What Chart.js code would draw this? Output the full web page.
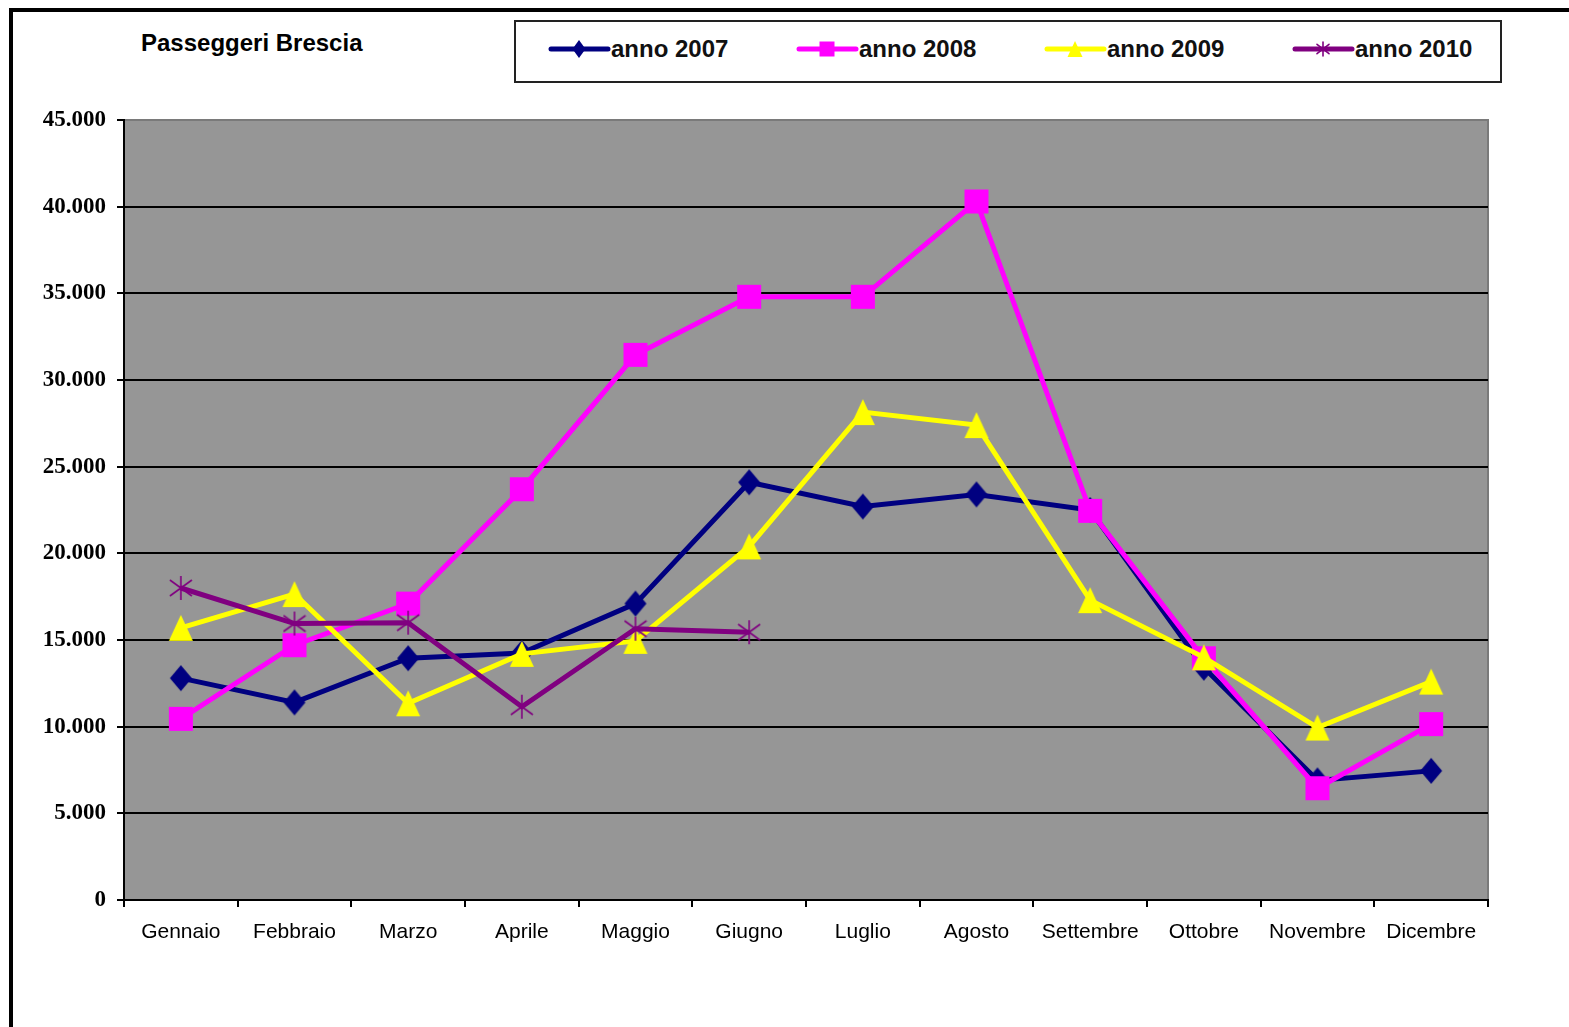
<!DOCTYPE html>
<html>
<head>
  <title>Passeggeri Brescia</title>
  <script src="https://cdn.jsdelivr.net/npm/chart.js"></script>
  <style>
    body { margin: 0; background: #fff; }
    #page { position: relative; width: 1569px; height: 1027px; overflow: hidden; }
    #frame { position: absolute; left: 9px; top: 8px; right: -10px; bottom: -10px; border-top: 4px solid #000; border-left: 4px solid #000; }
    #title { position: absolute; left: 141px; top: 29px; font: bold 24px "Liberation Sans", Arial, sans-serif; color: #000; }
    #legend { position: absolute; left: 514px; top: 20px; width: 988px; height: 63px; box-sizing: border-box; border: 2px solid #222; display: flex; align-items: center; padding-left: 32px; padding-bottom: 5px; }
    .item { flex: none; width: 248px; display: flex; align-items: center; font: bold 24px "Liberation Sans", Arial, sans-serif; color: #111; }
    .item canvas { display: block; }
    #chart { position: absolute; left: 0; top: 0; }
  </style>
</head>
<body>
  <div id="page">
    <div id="frame"></div>
    <div id="title">Passeggeri Brescia</div>
    <div id="legend"></div>
    <canvas id="chart" width="1569" height="1027"></canvas>
  </div>

  <script>
    // dati
    let mesi = ["Gennaio", "Febbraio", "Marzo", "Aprile", "Maggio", "Giugno",
                "Luglio", "Agosto", "Settembre", "Ottobre", "Novembre", "Dicembre"];
    let anno2007 = [12800, 11400, 13950, 14250, 17100, 24100, 22700, 23400, 22500, 13400, 6900, 7450];
    let anno2008 = [10450, 14700, 17100, 23700, 31450, 34800, 34800, 40300, 22450, 13950, 6450, 10150];
    let anno2009 = [15700, 17650, 11350, 14200, 14950, 20400, 28150, 27400, 17300, 14000, 9950, 12600];
    let anno2010 = [18000, 15950, 16000, 11150, 15650, 15450, null, null, null, null, null, null];
    let nomiSerie = ["anno 2007", "anno 2008", "anno 2009", "anno 2010"];
    let yTicks = [0, 5000, 10000, 15000, 20000, 25000, 30000, 35000, 40000, 45000];

    let colori = ["#000080", "#ff00ff", "#ffff00", "#800080"];
    let simboli = ["diamond", "square", "triangle", "star"];
    let serie = [anno2007, anno2008, anno2009, anno2010];

    function formatNumber(v) {
      return String(v).replace(/\B(?=(\d{3})+(?!\d))/g, ".");
    }

    // disegna il simbolo in un rettangolo w x h centrato in (x, y)
    function drawMarker(ctx, style, x, y, w, h, color) {
      ctx.fillStyle = color;
      ctx.strokeStyle = color;
      ctx.beginPath();
      if (style == "diamond") {
        ctx.moveTo(x - w / 2, y); ctx.lineTo(x, y - h / 2); ctx.lineTo(x + w / 2, y); ctx.lineTo(x, y + h / 2);
        ctx.closePath(); ctx.fill();
      } else if (style == "square") {
        ctx.rect(x - w / 2, y - h / 2, w, h); ctx.fill();
      } else if (style == "triangle") {
        ctx.moveTo(x, y - h / 2); ctx.lineTo(x + w / 2, y + h / 2); ctx.lineTo(x - w / 2, y + h / 2);
        ctx.closePath(); ctx.fill();
      } else {
        ctx.lineWidth = 1.6;
        ctx.moveTo(x, y - h / 2); ctx.lineTo(x, y + h / 2);
        ctx.moveTo(x - w / 2, y - h / 3); ctx.lineTo(x + w / 2, y + h / 3);
        ctx.moveTo(x + w / 2, y - h / 3); ctx.lineTo(x - w / 2, y + h / 3);
        ctx.stroke();
      }
    }

    let misure = [[22, 26], [24, 24], [24, 26], [22, 24]];

    function markerImage(i) {
      let c = document.createElement("canvas");
      c.width = misure[i][0] + 2;
      c.height = misure[i][1] + 2;
      drawMarker(c.getContext("2d"), simboli[i], c.width / 2, c.height / 2, misure[i][0], misure[i][1], colori[i]);
      return c;
    }

    let datasets = serie.map(function (dati, i) {
      return {
        label: nomiSerie[i],
        data: dati,
        borderColor: colori[i],
        backgroundColor: colori[i],
        borderWidth: 5,
        pointStyle: markerImage(i),
        pointRadius: 12,
        pointHoverRadius: 12,
        tension: 0,
        spanGaps: false,
        order: 3 - i
      };
    });

    let plotBackground = {
      id: "plotBackground",
      beforeDraw: function (chart) {
        let a = chart.chartArea;
        let ctx = chart.ctx;
        ctx.save();
        ctx.fillStyle = "#969696";
        ctx.fillRect(a.left, a.top, a.right - a.left, a.bottom - a.top);
        ctx.strokeStyle = "#7a7a7a";
        ctx.lineWidth = 2;
        ctx.strokeRect(a.left, a.top, a.right - a.left, a.bottom - a.top);
        ctx.restore();
      }
    };

    new Chart(document.getElementById("chart"), {
      type: "line",
      data: { labels: mesi, datasets: datasets },
      plugins: [plotBackground],
      options: {
        responsive: false,
        animation: false,
        layout: { padding: { left: 0, right: 81, top: 120, bottom: 0 } },
        plugins: {
          legend: { display: false },
          title: { display: false },
          tooltip: { enabled: false }
        },
        scales: {
          x: {
            offset: true,
            afterFit: function (scale) { scale.height = 127; },
            grid: {
              offset: true,
              drawOnChartArea: false,
              color: "#000",
              lineWidth: 2,
              tickLength: 7
            },
            border: { color: "#000", width: 2 },
            ticks: {
              color: "#000",
              padding: 13,
              maxRotation: 0,
              font: { family: "'Liberation Sans', Arial, sans-serif", size: 21 }
            }
          },
          y: {
            min: 0,
            max: 45000,
            afterFit: function (scale) { scale.width = 124; },
            afterBuildTicks: function (scale) {
              scale.ticks = yTicks.map(function (v) { return { value: v }; });
            },
            grid: {
              color: function (c) { return c.tick && c.tick.value == 45000 ? "#7a7a7a" : "#000"; },
              tickColor: "#000",
              lineWidth: 2,
              tickLength: 7
            },
            border: { color: "#000", width: 2 },
            ticks: {
              color: "#000",
              padding: 11,
              font: { family: "'Liberation Serif', 'Times New Roman', serif", size: 23, weight: "bold" },
              callback: function (v) { return formatNumber(v); }
            }
          }
        }
      }
    });

    // legenda con linea e simbolo, come nell'originale
    let misureLegenda = [[13, 18], [15, 15], [15, 16], [12, 14]];
    let legendEl = document.getElementById("legend");
    nomiSerie.forEach(function (nome, i) {
      let item = document.createElement("div");
      item.className = "item";
      let c = document.createElement("canvas");
      c.width = 63; c.height = 24;
      let ctx = c.getContext("2d");
      ctx.strokeStyle = colori[i];
      ctx.lineWidth = 5;
      ctx.lineCap = "round";
      ctx.beginPath();
      ctx.moveTo(3, 12); ctx.lineTo(60, 12);
      ctx.stroke();
      drawMarker(ctx, simboli[i], 31, 12, misureLegenda[i][0], misureLegenda[i][1], colori[i]);
      item.appendChild(c);
      let t = document.createElement("span");
      t.textContent = nome;
      item.appendChild(t);
      legendEl.appendChild(item);
    });
  </script>
</body>
</html>
